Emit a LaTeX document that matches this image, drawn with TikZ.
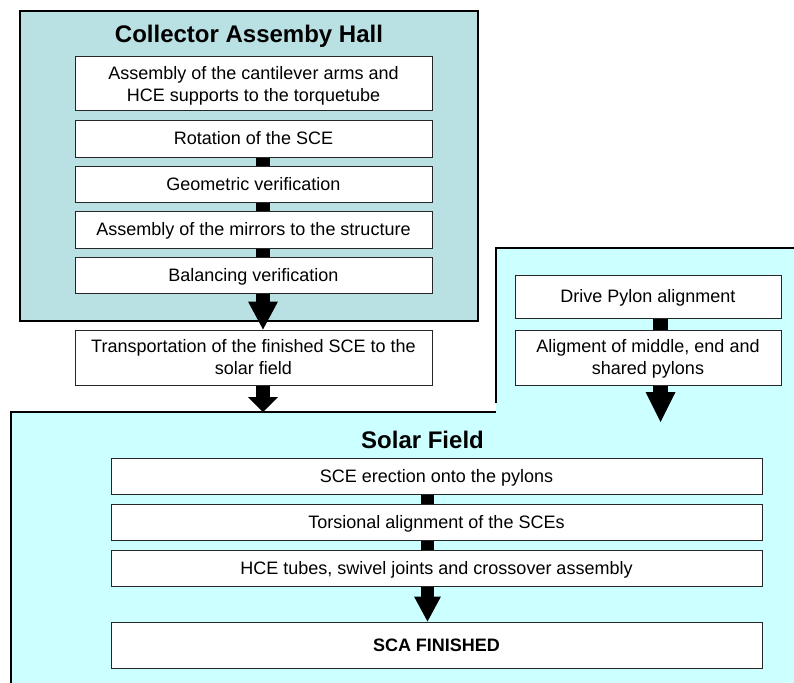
\documentclass[tikz,border=0pt]{standalone}
\usepackage{fontspec}
\setmainfont{Liberation Sans}
\usetikzlibrary{arrows.meta,calc}
\definecolor{hallfill}{HTML}{B9E0E2}
\definecolor{fieldfill}{HTML}{CCFFFF}
\begin{document}
\begin{tikzpicture}[x=1pt,y=-1pt,
  area/.style={draw=black,line width=1.5pt},
  stepbox/.style={draw=black!85,fill=white,line width=1pt,inner sep=0pt,align=center,
    font=\fontsize{18}{22}\selectfont},
  one/.style={text height=12.9pt,text depth=0pt},
  two/.style={text height=34.9pt,text depth=0pt},
  titletext/.style={font=\fontsize{24}{28}\selectfont\bfseries,inner sep=0pt,anchor=base},
  fatarrow/.style 2 args={line width=#1,-{Triangle[length=#2,width=30pt,line width=0pt]}}
]
\useasboundingbox (0,0) rectangle (794,682);
\clip (0,0) rectangle (794,682);

% container areas
\path[area,fill=hallfill] (20,11) rectangle (478,321);
\fill[fieldfill] (11,412) rectangle (800,690);
\fill[fieldfill] (496,248) rectangle (800,413);
\draw[area] (496,403) -- (496,248) -- (800,248);
\draw[area] (496,412) -- (11,412) -- (11,690);

% titles
\node[titletext] (hallt) at (249,43) {Collector Assemby Hall};
\node[titletext] (sft) at (422.5,448) {Solar Field};

% hall steps
\node[stepbox,two,minimum width=357pt,minimum height=54pt] (b1) at (253.5,84)
  {Assembly of the cantilever arms and\\HCE supports to the torquetube};
\node[stepbox,one,minimum width=357pt,minimum height=37pt] (b2) at (253.5,138.5) {Rotation of the SCE};
\node[stepbox,one,minimum width=357pt,minimum height=36pt] (b3) at (253.5,184) {Geometric verification};
\node[stepbox,one,minimum width=357pt,minimum height=37pt] (b4) at (253.5,229.5) {Assembly of the mirrors to the structure};
\node[stepbox,one,minimum width=357pt,minimum height=36pt] (b5) at (253.5,275) {Balancing verification};

% transport
\node[stepbox,two,minimum width=357pt,minimum height=55pt] (tr) at (253.5,357.5)
  {Transportation of the finished SCE to the\\solar field};

% pylon steps
\node[stepbox,one,minimum width=266pt,minimum height=43pt] (p1) at (648,296.5) {Drive Pylon alignment};
\node[stepbox,two,minimum width=266pt,minimum height=55pt] (p2) at (648,357.5)
  {Aligment of middle, end and\\shared pylons};

% solar field steps
\node[stepbox,one,minimum width=651pt,minimum height=36pt] (s1) at (436.5,476) {SCE erection onto the pylons};
\node[stepbox,one,minimum width=651pt,minimum height=36pt] (s2) at (436.5,522) {Torsional alignment of the SCEs};
\node[stepbox,one,minimum width=651pt,minimum height=36pt] (s3) at (436.5,568) {HCE tubes, swivel joints and crossover assembly};
\node[stepbox,one,minimum width=651pt,minimum height=46pt,font=\fontsize{18}{22}\selectfont\bfseries] (s4) at (436.5,645) {SCA FINISHED};

% axis coordinates for connectors
\coordinate (hallx) at (263,0);
\coordinate (pylx) at (660.5,0);
\coordinate (sfx) at (427.5,0);
\coordinate (sfentry) at (263,412);
\coordinate (pylentry) at (660.5,422);

% connector bars
\draw[line width=14pt] (b2.south -| hallx) -- (b3.north -| hallx);
\draw[line width=14pt] (b3.south -| hallx) -- (b4.north -| hallx);
\draw[line width=14pt] (b4.south -| hallx) -- (b5.north -| hallx);
\draw[line width=15pt] (p1.south -| pylx) -- (p2.north -| pylx);
\draw[line width=13pt] (s1.south -| sfx) -- (s2.north -| sfx);
\draw[line width=13pt] (s2.south -| sfx) -- (s3.north -| sfx);

% fat arrows
\draw[fatarrow={14pt}{28pt}] (b5.south -| hallx) -- (tr.north -| hallx);
\draw[fatarrow={14pt}{15pt}] (tr.south -| hallx) -- (sfentry);
\draw[fatarrow={15pt}{30pt}] (p2.south -| pylx) -- (pylentry);
\draw[-{Triangle[length=25pt,width=27pt,line width=0pt]},line width=13pt] (s3.south -| sfx) -- (s4.north -| sfx);
\end{tikzpicture}
\end{document}
